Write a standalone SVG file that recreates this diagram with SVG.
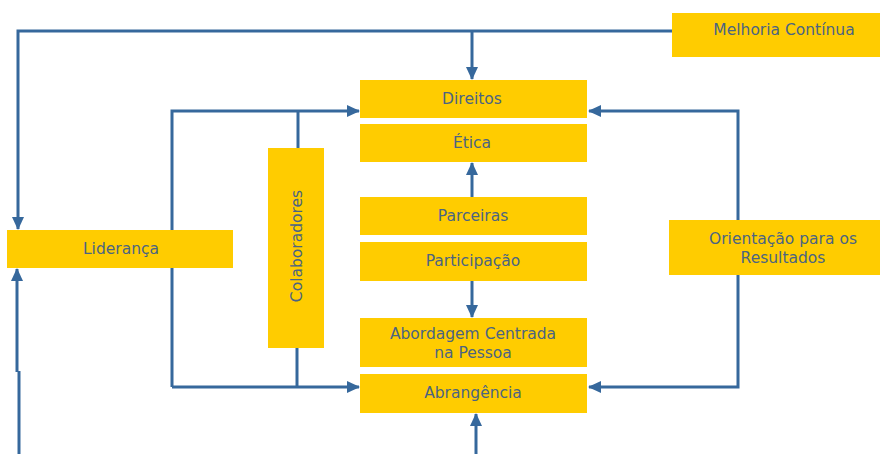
<svg xmlns="http://www.w3.org/2000/svg" width="880" height="454" viewBox="0 0 880 454">
<style>
.ln{fill:none;stroke:#36689C;stroke-width:3}
.bx{fill:#FFCC00}
.tx{font-family:"DejaVu Sans","Liberation Sans",sans-serif;font-size:15.5px;fill:#4B6482;text-anchor:middle}
</style>
<defs>
<marker id="ah" markerWidth="13" markerHeight="12" refX="12" refY="6" orient="auto" markerUnits="userSpaceOnUse" viewBox="0 0 13 12">
<path d="M0,0 L13,6 L0,12 z" fill="#36689C"/>
</marker>
</defs>
<g id="connectors">
<path class="ln" d="M672,31 L18,31 L18,229" marker-end="url(#ah)"/>
<path class="ln" d="M472,31 L472,79" marker-end="url(#ah)"/>
<path class="ln" d="M17,372 L17,269" marker-end="url(#ah)"/>
<path class="ln" d="M19,454 L19,371"/>
<path class="ln" d="M172,387 L172,111 L359,111" marker-end="url(#ah)"/>
<path class="ln" d="M172,387 L359,387" marker-end="url(#ah)"/>
<path class="ln" d="M298,111 L298,148"/>
<path class="ln" d="M297,348 L297,387"/>
<path class="ln" d="M738,220 L738,111 L589,111" marker-end="url(#ah)"/>
<path class="ln" d="M738,275 L738,387 L589,387" marker-end="url(#ah)"/>
<path class="ln" d="M472,197 L472,163" marker-end="url(#ah)"/>
<path class="ln" d="M472,281 L472,317" marker-end="url(#ah)"/>
<path class="ln" d="M476,454 L476,414" marker-end="url(#ah)"/>
</g>
<g id="melhoria"><rect class="bx" x="672" y="13" width="208" height="44"/><text class="tx" x="784" y="35">Melhoria Contínua</text></g>
<g id="direitos"><rect class="bx" x="360" y="80" width="227" height="38"/><text class="tx" x="472" y="104">Direitos</text></g>
<g id="etica"><rect class="bx" x="360" y="124" width="227" height="38"/><text class="tx" x="472" y="148">Ética</text></g>
<g id="parceiras"><rect class="bx" x="360" y="197" width="227" height="38"/><text class="tx" x="473" y="221">Parceiras</text></g>
<g id="participacao"><rect class="bx" x="360" y="242" width="227" height="39"/><text class="tx" x="473" y="266">Participação</text></g>
<g id="abordagem"><rect class="bx" x="360" y="318" width="227" height="49"/><text class="tx" x="473" y="339">Abordagem Centrada</text><text class="tx" x="473" y="358">na Pessoa</text></g>
<g id="abrangencia"><rect class="bx" x="360" y="374" width="227" height="39"/><text class="tx" x="473" y="398">Abrangência</text></g>
<g id="lideranca"><rect class="bx" x="7" y="230" width="226" height="38"/><text class="tx" x="121" y="254">Liderança</text></g>
<g id="colaboradores"><rect class="bx" x="268" y="148" width="56" height="200"/><text class="tx" transform="translate(302,246) rotate(-90)" x="0" y="0">Colaboradores</text></g>
<g id="orientacao"><rect class="bx" x="669" y="220" width="211" height="55"/><text class="tx" x="783" y="244">Orientação para os</text><text class="tx" x="783" y="263">Resultados</text></g>
</svg>
